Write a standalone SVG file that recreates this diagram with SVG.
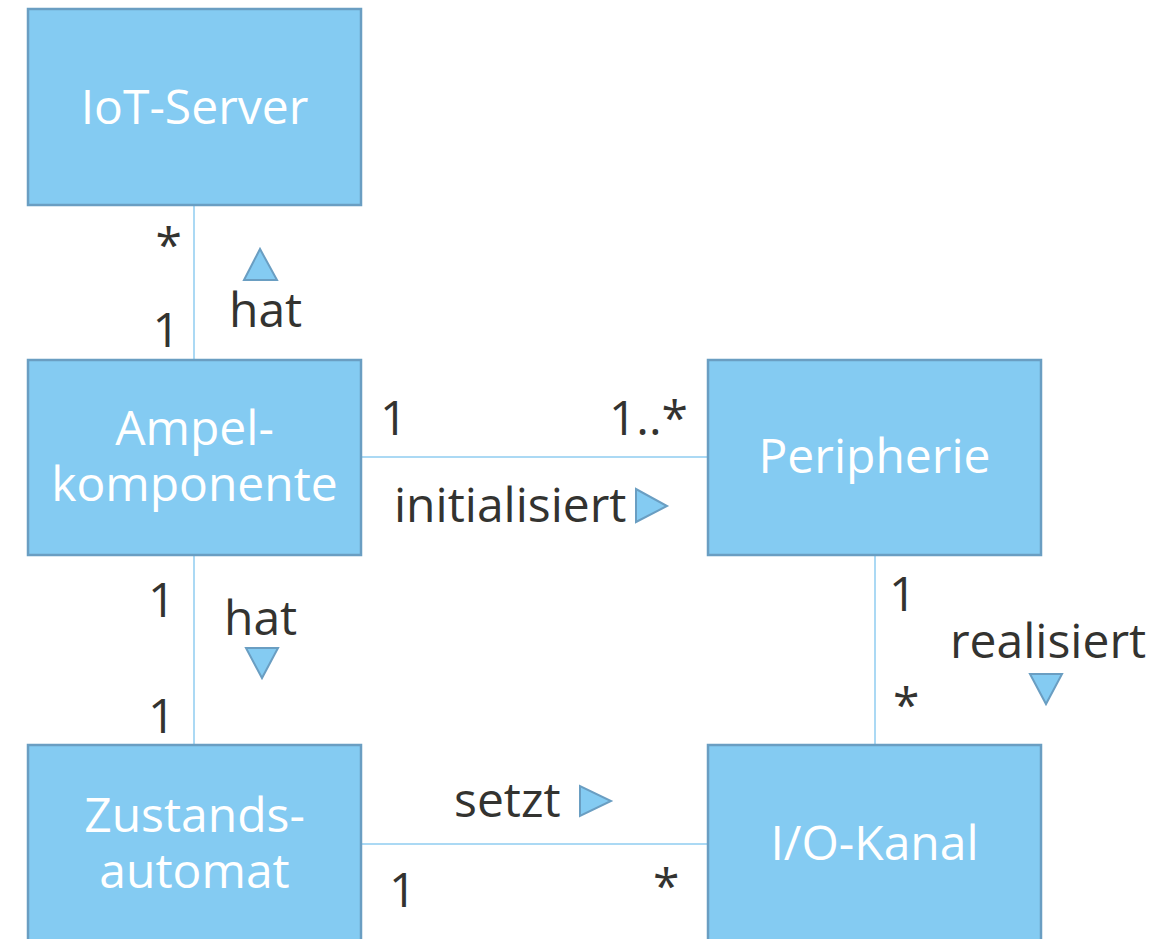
<svg xmlns="http://www.w3.org/2000/svg" width="1166" height="939" viewBox="0 0 1166 939">
<style>
.box{fill:#84cbf2;stroke:#6a9ec2;stroke-width:2.5}
.nt{font-family:"Open Sans","Noto Sans",sans-serif;font-size:48px;fill:#ffffff;text-anchor:middle}
.lb{font-family:"Open Sans","Noto Sans",sans-serif;font-size:48px;fill:#333330}
.ln{stroke:#8fcdf0;stroke-width:1.5;fill:none}
.tri{fill:#84cbf2;stroke:#6a9ec2;stroke-width:2;stroke-linejoin:miter}
</style>
<rect width="1166" height="939" fill="#ffffff"/>
<g id="connectors">
<line class="ln" x1="194" y1="205" x2="194" y2="360"/>
<line class="ln" x1="361" y1="457" x2="708" y2="457"/>
<line class="ln" x1="194" y1="555" x2="194" y2="745"/>
<line class="ln" x1="875" y1="555" x2="875" y2="745"/>
<line class="ln" x1="361" y1="844" x2="708" y2="844"/>
<text class="lb" x="182" y="262" text-anchor="end">*</text>
<text class="lb" x="180" y="347" text-anchor="end">1</text>
<polygon class="tri" points="260,249 244,280 277,280"/>
<text class="lb" x="229" y="327">hat</text>
<text class="lb" x="380" y="435">1</text>
<text class="lb" x="688" y="435" text-anchor="end">1..*</text>
<text class="lb" x="394" y="522">initialisiert</text>
<polygon class="tri" points="636,489 636,522 667,506"/>
<text class="lb" x="148" y="617">1</text>
<text class="lb" x="224" y="635">hat</text>
<polygon class="tri" points="246,648 278,648 262,678"/>
<text class="lb" x="148" y="733">1</text>
<text class="lb" x="889" y="611">1</text>
<text class="lb" x="950" y="658">realisiert</text>
<polygon class="tri" points="1030,674 1062,674 1046,704"/>
<text class="lb" x="893" y="722">*</text>
<text class="lb" x="454" y="817">setzt</text>
<polygon class="tri" points="580,786 580,816 611,801"/>
<text class="lb" x="389" y="907">1</text>
<text class="lb" x="653" y="903">*</text>
</g>
<g id="iot-server">
<rect class="box" x="28" y="9" width="333" height="196"/>
<text class="nt" x="194.5" y="124">IoT-Server</text>
</g>
<g id="ampelkomponente">
<rect class="box" x="28" y="360" width="333" height="195"/>
<text class="nt" x="194.5" y="445">Ampel-<tspan x="194.5" y="501">komponente</tspan></text>
</g>
<g id="peripherie">
<rect class="box" x="708" y="360" width="333" height="195"/>
<text class="nt" x="874.5" y="473">Peripherie</text>
</g>
<g id="zustandsautomat">
<rect class="box" x="28" y="745" width="333" height="230"/>
<text class="nt" x="194.5" y="832">Zustands-<tspan x="194.5" y="888">automat</tspan></text>
</g>
<g id="io-kanal">
<rect class="box" x="708" y="745" width="333" height="230"/>
<text class="nt" x="874.5" y="860">I/O-Kanal</text>
</g>
</svg>
